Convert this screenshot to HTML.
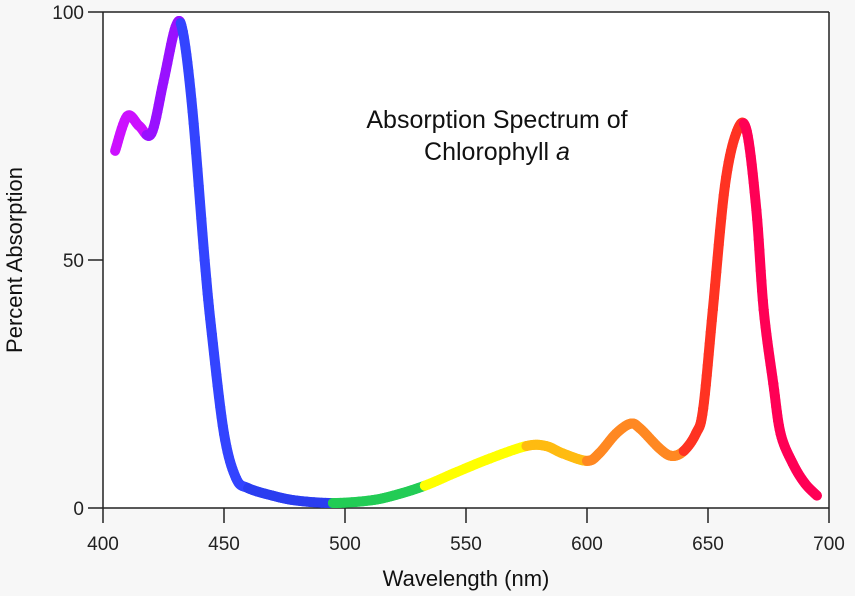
<!DOCTYPE html>
<html><head><meta charset="utf-8"><style>
body{margin:0;background:#f7f7f7;}
svg{display:block;font-family:"Liberation Sans",sans-serif;}
</style></head><body>
<svg id="s" width="855" height="596" xmlns="http://www.w3.org/2000/svg">
<rect x="0" y="0" width="855" height="596" fill="#f7f7f7"/>
<rect x="103" y="12" width="726" height="496" fill="#fff"/>
<g stroke="#222" stroke-width="1.5" fill="none">
<line x1="103" y1="12" x2="829" y2="12"/>
<line x1="829" y1="12" x2="829" y2="508"/>
<line x1="103" y1="12" x2="103" y2="508"/>
<line x1="88" y1="508" x2="829" y2="508"/>
<line x1="88" y1="12" x2="103" y2="12"/>
<line x1="88" y1="260" x2="103" y2="260"/>
<line x1="103" y1="508" x2="103" y2="523"/>
<line x1="224" y1="508" x2="224" y2="523"/>
<line x1="345" y1="508" x2="345" y2="523"/>
<line x1="466" y1="508" x2="466" y2="523"/>
<line x1="587" y1="508" x2="587" y2="523"/>
<line x1="708" y1="508" x2="708" y2="523"/>
<line x1="829" y1="508" x2="829" y2="523"/>
</g>
<g font-size="19" fill="#222" text-anchor="end">
<text x="84" y="19">100</text><text x="84" y="267">50</text><text x="84" y="515">0</text>
</g>
<g font-size="19" fill="#222" text-anchor="middle">
<text x="103" y="550">400</text><text x="224" y="550">450</text><text x="345" y="550">500</text>
<text x="466" y="550">550</text><text x="587" y="550">600</text><text x="708" y="550">650</text>
<text x="829" y="550">700</text>
</g>
<text x="466" y="586" font-size="22" fill="#111" text-anchor="middle">Wavelength (nm)</text>
<text transform="translate(22,260) rotate(-90)" font-size="22" fill="#111" text-anchor="middle">Percent Absorption</text>
<text x="497" y="128" font-size="25" fill="#111" text-anchor="middle">Absorption Spectrum of</text>
<text x="497" y="160" font-size="25" fill="#111" text-anchor="middle">Chlorophyll <tspan font-style="italic">a</tspan></text>
<g id="c" fill="none" stroke-width="10" stroke-linecap="round" stroke-linejoin="round"></g>
</svg>
<script>
var d=[[405,72],[410,79],[415,77],[420,75.5],[425,86],[430,97],[433,96],[437,80],[442,50],[445,35],[450,15],[455,6],[460,4],[470,2.5],[480,1.5],[495,1],[510,1.5],[520,2.5],[533,4.5],[545,7],[560,10],[575,12.5],[583,12.5],[590,11],[600,9.5],[605,11],[612,15],[618,17],[622,16],[630,12],[635,10.5],[640,11.5],[645,15],[648,20],[652,40],[657,65],[662,76],[666,76],[670,60],[673,40],[677,25],[680,15],[685,9],[690,5],[695,2.5]];
function X(l){return 103+(l-400)*2.42}function Y(v){return 508-v*4.96}
// interpolate densely with catmull-rom
var pts=[];
for(var i=0;i<d.length-1;i++){var p0=d[Math.max(0,i-1)],p1=d[i],p2=d[i+1],p3=d[Math.min(d.length-1,i+2)];
for(var t=0;t<1;t+=0.1){var t2=t*t,t3=t2*t;
var f=function(a,b,c,e){return 0.5*((2*b)+(-a+c)*t+(2*a-5*b+4*c-e)*t2+(-a+3*b-3*c+e)*t3)};
pts.push([f(p0[0],p1[0],p2[0],p3[0]),f(p0[1],p1[1],p2[1],p3[1])]);}}
pts.push(d[d.length-1]);
function col(l){
if(l<418)return"#cc11ff";if(l<432)return"#9911ff";if(l<460)return"#3344ff";if(l<495)return"#2a3df0";
if(l<533)return"#22cc55";if(l<575)return"#ffff00";if(l<600)return"#ffbb11";if(l<640)return"#ff8822";
if(l<665)return"#ff3322";return"#ff0055";}
var g=document.getElementById("c"),h="";
for(var i=0;i<pts.length-1;i++){var a=pts[i],b=pts[i+1];
h+='<line x1="'+X(a[0])+'" y1="'+Y(a[1])+'" x2="'+X(b[0])+'" y2="'+Y(b[1])+'" stroke="'+col((a[0]+b[0])/2)+'"/>';}
g.innerHTML=h;
</script>
</body></html>
